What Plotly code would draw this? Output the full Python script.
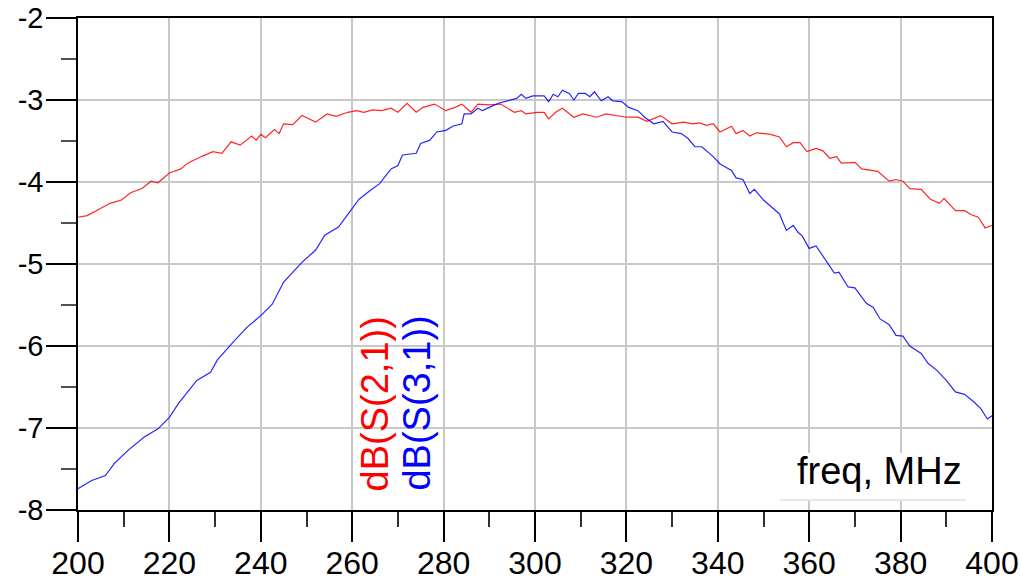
import plotly.graph_objects as go

# ---- data ----
f_s21 = [200, 202, 204, 207, 209.5, 211.5, 214, 216, 217.5, 220, 222.5, 224, 227, 229.5, 231.5,
         233.5, 235.5, 238, 239, 240, 241, 243, 244, 245, 247, 249, 252, 254.5, 256.5, 259, 261,
         262.5, 264.5, 266.5, 268.5, 270, 272, 274, 275.5, 278, 280.5, 282.5, 284, 286, 287.5,
         290, 292.5, 295.5, 297, 298, 300.5, 302, 303, 304.5, 306, 308.5, 310.5, 313.5, 315.5,
         320, 322.5, 324.5, 327.5, 330, 332.5, 334.5, 336, 337.5, 339, 340.5, 343, 344, 345.5,
         347, 348.5, 351.5, 353.5, 355, 356.5, 358, 359.5, 361.5, 363, 364.5, 366, 367, 370,
         371.5, 375, 377.5, 379, 380.5, 382, 384.5, 386.5, 388.5, 389.5, 392, 394, 395.5, 397,
         398.5, 400]
s21 = [-4.43, -4.41, -4.35, -4.26, -4.22, -4.13, -4.08, -3.99, -4.01, -3.89, -3.84, -3.77, -3.69,
       -3.63, -3.65, -3.51, -3.55, -3.44, -3.49, -3.42, -3.46, -3.36, -3.41, -3.29, -3.30, -3.19,
       -3.27, -3.17, -3.20, -3.15, -3.13, -3.15, -3.12, -3.13, -3.10, -3.15, -3.04, -3.15, -3.09,
       -3.05, -3.13, -3.09, -3.05, -3.15, -3.05, -3.06, -3.05, -3.15, -3.13, -3.17, -3.15, -3.15,
       -3.23, -3.15, -3.10, -3.21, -3.17, -3.21, -3.17, -3.21, -3.21, -3.26, -3.19, -3.29, -3.27,
       -3.29, -3.28, -3.31, -3.29, -3.39, -3.32, -3.41, -3.37, -3.44, -3.40, -3.42, -3.45, -3.57,
       -3.52, -3.52, -3.63, -3.59, -3.62, -3.71, -3.69, -3.77, -3.76, -3.84, -3.87, -3.99, -3.97,
       -3.99, -4.08, -4.09, -4.21, -4.26, -4.20, -4.35, -4.35, -4.40, -4.43, -4.56, -4.53]

f_s31 = [200, 203, 206, 208, 211, 214.5, 217.5, 220, 222, 226, 229, 230.5, 234, 237, 240, 242.5,
         245, 249, 252, 254, 257, 260, 261.5, 264, 266, 268.5, 270, 271, 274, 275, 277, 278.5,
         280.5, 282, 284, 284.5, 286, 287.5, 288.5, 290, 292, 294, 296, 297, 298, 299.5, 302,
         303, 304, 305, 306, 307.5, 308.5, 309.5, 311, 312, 313, 314.5, 316, 317, 319, 320.5,
         322.5, 324, 326, 328, 330, 332, 333.5, 335, 336.5, 339, 340.5, 343, 344, 345.5, 347,
         348, 350, 353.5, 355, 356.5, 357.5, 358.5, 360, 361.5, 364, 365.5, 366.5, 368.5, 370,
         372.5, 374, 375.5, 377.5, 379, 380.5, 382, 384.5, 386, 388, 390, 392, 394, 396, 397.5,
         399, 400]
s31 = [-7.74, -7.64, -7.58, -7.43, -7.27, -7.11, -7.01, -6.87, -6.70, -6.42, -6.32, -6.17, -5.95,
       -5.77, -5.63, -5.49, -5.22, -4.98, -4.83, -4.65, -4.55, -4.32, -4.21, -4.10, -4.02, -3.84,
       -3.80, -3.67, -3.65, -3.53, -3.49, -3.39, -3.37, -3.32, -3.29, -3.17, -3.17, -3.10, -3.13,
       -3.09, -3.04, -3.01, -2.98, -2.93, -2.98, -2.95, -2.95, -3.02, -2.93, -2.96, -2.88, -2.92,
       -3.00, -2.92, -2.92, -2.96, -2.90, -3.01, -2.96, -3.01, -3.02, -3.09, -3.13, -3.21, -3.29,
       -3.26, -3.39, -3.41, -3.47, -3.57, -3.57, -3.69, -3.78, -3.86, -3.95, -3.97, -4.14, -4.09,
       -4.22, -4.39, -4.59, -4.53, -4.61, -4.66, -4.81, -4.78, -4.99, -5.11, -5.10, -5.28, -5.29,
       -5.48, -5.53, -5.67, -5.74, -5.87, -5.88, -6.00, -6.09, -6.21, -6.30, -6.42, -6.56, -6.59,
       -6.68, -6.76, -6.89, -6.85]

x_ticks = [200, 220, 240, 260, 280, 300, 320, 340, 360, 380, 400]
x_tick_text = ["200", "220", "240", "260", "280", "300", "320", "340", "360", "380", "400"]
y_ticks = [-8, -7, -6, -5, -4, -3, -2]
y_tick_text = ["-8", "-7", "-6", "-5", "-4", "-3", "-2"]

series_names = ["dB(S(2,1))", "dB(S(3,1))"]
x_title = "freq, MHz"

RED = "#ff0000"
BLUE = "#0000ff"
FONT = "Liberation Sans, Arial, sans-serif"

fig = go.Figure()
fig.add_trace(go.Scatter(x=f_s21, y=s21, mode="lines", name=series_names[0],
                         line=dict(color=RED, width=1.2), opacity=0.85))
fig.add_trace(go.Scatter(x=f_s31, y=s31, mode="lines", name=series_names[1],
                         line=dict(color=BLUE, width=1.2), opacity=0.85))

axis_common = dict(
    showgrid=True, gridcolor="#c8c8c8", gridwidth=1.5,
    showline=True, linecolor="black", linewidth=1.5, mirror=True,
    ticks="outside", ticklen=30, tickwidth=1.5, tickcolor="black",
    zeroline=False, automargin=False,
)

fig.update_layout(
    width=1020, height=582,
    margin=dict(l=78, r=28, t=18, b=72),
    paper_bgcolor="white", plot_bgcolor="white",
    showlegend=False,
    xaxis=dict(range=[200, 400], tickmode="array", tickvals=x_ticks, ticktext=x_tick_text,
               tickfont=dict(family=FONT, size=32, color="black"), ticklabelstandoff=-6,
               minor=dict(tickmode="linear", tick0=200, dtick=10, ticklen=15, tickwidth=1.5,
                          tickcolor="#303030", ticks="outside", showgrid=False),
               **axis_common),
    yaxis=dict(range=[-8, -2], tickmode="array", tickvals=y_ticks, ticktext=y_tick_text,
               tickfont=dict(family=FONT, size=29, color="black"), ticklabelstandoff=-3,
               minor=dict(tickmode="linear", tick0=-8, dtick=0.5, ticklen=15, tickwidth=1.5,
                          tickcolor="#505050", ticks="outside", showgrid=False),
               **axis_common),
)

# white box behind the x-axis title
fig.add_shape(type="rect", xref="paper", yref="paper", x0=0.768, x1=0.9716, y0=0.0183, y1=0.1159,
              fillcolor="white", line=dict(width=0), layer="above")
fig.add_shape(type="line", xref="paper", yref="paper", x0=0.768, x1=0.9716, y0=0.0203, y1=0.0203,
              line=dict(color="#ebe8e3", width=2), layer="above")
fig.add_annotation(xref="paper", yref="paper", x=0.8768, y=0.0793, text=x_title, showarrow=False,
                   xanchor="center", yanchor="middle",
                   font=dict(family=FONT, size=38, color="black"))

# vertical series labels
fig.add_annotation(xref="paper", yref="paper", x=0.326, y=0.0346, text=series_names[0],
                   showarrow=False, textangle=-90, xanchor="center", yanchor="bottom",
                   font=dict(family=FONT, size=38, color=RED))
fig.add_annotation(xref="paper", yref="paper", x=0.371, y=0.0346, text=series_names[1],
                   showarrow=False, textangle=-90, xanchor="center", yanchor="bottom",
                   font=dict(family=FONT, size=38, color=BLUE))

fig.write_html("out.html", config={"displayModeBar": False},
               post_script="document.body.style.margin='0px';document.body.style.overflow='hidden';")
